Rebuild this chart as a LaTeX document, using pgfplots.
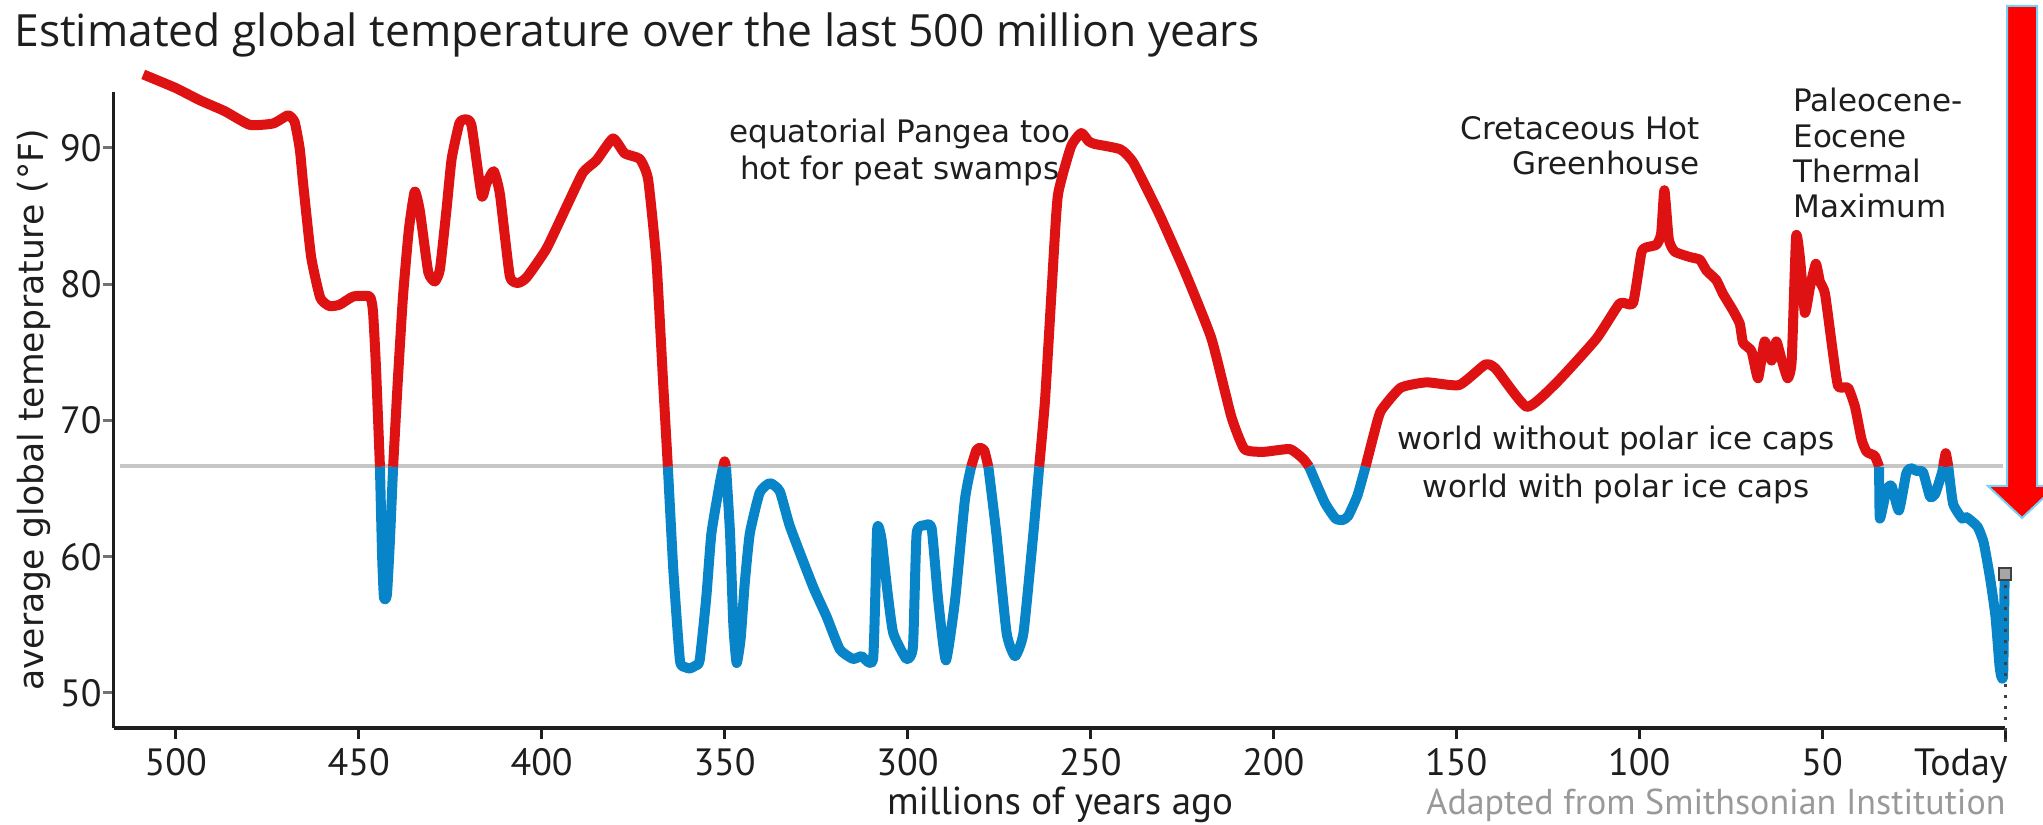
\documentclass[border=0pt]{standalone}
\usepackage{fontspec}
\setmainfont{DejaVu Sans}
\newfontfamily\ptsans{PT Sans}
\newfontfamily\opensans{Open Sans}
\usepackage{pgfplots}
\usepackage{pgfplotstable}
\pgfplotsset{compat=1.18}

\definecolor{hot}{RGB}{222,18,18}
\definecolor{cold}{RGB}{8,132,200}
\definecolor{ink}{RGB}{30,30,30}

% warm stretches (above the ice-cap line), nan rows break the line
\pgfplotstableread{
t T
508.9 95.4
500.0 94.4
493.4 93.5
486.6 92.7
479.8 91.7
473.4 91.8
469.3 92.4
467.5 91.9
466.1 89.9
465.2 87.4
463.0 82.0
460.5 79.0
458.0 78.4
455.2 78.5
451.5 79.1
447.0 79.1
446.1 78.0
445.3 74.0
444.2 66.6
nan nan
440.6 66.6
439.3 73.0
437.9 79.1
436.3 84.0
434.7 86.8
433.3 85.4
431.0 80.9
429.2 80.2
427.8 81.1
426.0 85.5
424.6 89.2
422.5 91.8
421.0 92.1
419.2 91.7
416.4 86.5
415.1 87.4
413.1 88.3
411.4 86.6
408.7 80.6
406.4 80.1
404.1 80.5
398.7 82.6
393.2 85.7
388.7 88.2
385.0 89.1
380.5 90.7
377.3 89.6
373.2 89.2
370.9 87.7
368.6 81.6
366.8 72.8
365.5 66.6
nan nan
350.4 66.6
350.0 67.0
349.6 66.6
nan nan
282.6 66.6
281.2 67.8
280.2 68.0
279.0 67.8
277.9 66.6
nan nan
264.0 66.6
262.4 71.5
260.5 80.0
258.9 86.5
255.3 90.1
252.5 91.1
250.5 90.5
248.9 90.3
241.8 89.9
238.2 88.9
231.1 85.1
224.0 80.8
216.9 76.0
211.5 70.3
207.9 67.9
202.6 67.7
195.5 67.9
191.9 67.2
190.2 66.6
nan nan
174.8 66.6
172.5 69.0
170.6 70.7
165.2 72.4
158.1 72.8
149.2 72.6
142.1 74.1
139.2 73.8
130.7 71.0
122.5 72.8
111.7 76.0
105.3 78.6
101.7 78.6
99.4 82.3
98.1 82.7
95.3 82.9
94.0 83.7
93.1 86.9
91.9 83.3
90.3 82.4
86.2 82.0
83.4 81.8
81.6 81.0
78.9 80.3
77.1 79.3
74.4 78.1
72.5 77.1
71.6 75.7
69.3 75.1
67.5 73.1
65.7 75.8
63.8 74.4
62.5 75.8
61.1 74.5
59.4 73.1
58.3 74.4
57.1 83.5
56.0 81.8
54.7 77.9
53.3 79.8
51.7 81.5
50.6 80.2
49.2 79.3
47.0 74.9
45.6 72.5
42.9 72.4
41.0 71.0
39.2 68.6
37.8 67.7
35.6 67.4
34.4 66.6
nan nan
16.9 66.6
16.2 67.6
15.5 66.6
}\hotdata

% cold stretches (below the ice-cap line)
\pgfplotstableread{
t T
444.2 66.6
443.6 60.0
443.1 57.0
442.3 57.2
441.5 61.0
440.6 66.6
nan nan
365.5 66.6
364.0 59.0
362.2 52.4
360.8 51.9
359.5 51.8
358.0 52.0
356.8 52.4
355.0 57.0
353.6 61.7
351.3 65.4
350.4 66.6
nan nan
349.6 66.6
348.5 61.7
347.6 55.0
346.7 52.2
345.6 54.0
344.5 58.0
343.1 61.7
340.4 64.7
337.6 65.4
334.9 64.8
332.1 62.2
325.8 57.8
322.1 55.6
318.5 53.2
314.9 52.5
312.6 52.7
309.4 52.5
308.3 62.0
307.1 61.3
305.5 57.5
303.9 54.4
300.3 52.5
298.5 53.4
297.5 61.7
295.3 62.3
293.4 62.1
291.6 56.8
289.5 52.4
287.0 56.8
284.3 64.2
282.6 66.6
nan nan
277.9 66.6
275.7 61.7
272.9 54.4
270.6 52.7
268.3 54.4
265.6 61.7
264.0 66.6
nan nan
190.2 66.6
186.0 64.0
183.0 62.8
181.0 62.7
179.5 63.0
177.0 64.5
174.8 66.6
nan nan
34.4 66.6
34.2 62.8
32.4 64.9
31.0 65.2
29.0 63.4
27.0 66.1
25.8 66.5
24.2 66.3
22.4 66.2
20.5 64.4
19.1 64.6
17.3 66.1
16.9 66.6
nan nan
15.5 66.6
14.2 63.9
11.7 62.8
10.5 62.9
7.5 62.2
5.8 61.0
4.0 58.3
2.6 55.6
1.5 52.0
1.0 51.2
0.5 51.4
0.1 58.5
}\colddata

\begin{document}
\begin{tikzpicture}
\useasboundingbox (0,0) rectangle (1021.5pt,412pt);
\begin{axis}[
  at={(57pt,48pt)}, anchor=south west,
  scale only axis, width=945.5pt, height=318pt,
  x dir=reverse,
  xmin=0, xmax=516.9, ymin=47.43, ymax=94.11,
  axis x line=bottom, axis y line=left,
  axis line style={-, ink, line width=1.5pt},
  xtick={50,100,...,500}, ytick={50,60,...,90},
  extra x ticks={0}, extra x tick labels={Today},
  extra x tick style={xticklabel style={anchor=base east, xshift=1.5pt}},
  tick align=outside, major tick length=5.5pt,
  x tick style={ink, line width=1.5pt},
  y tick style={black!55, line width=1.5pt},
  /pgf/number format/assume math mode=true,
  ticklabel style={font=\ptsans\fontsize{19}{22}\selectfont, text=ink, inner sep=0pt},
  xticklabel style={anchor=base, yshift=-18pt},
  yticklabel style={anchor=east, xshift=-0.5pt},
  clip=false,
  unbounded coords=jump,
]
\addplot[black!22, line width=2pt] coordinates {(515.3,66.66) (0.5,66.66)};
\addplot[hot, line width=5pt, line join=round, line cap=butt, smooth, tension=0.3] table[x=t, y=T] {\hotdata};
\addplot[cold, line width=5pt, line join=round, line cap=butt, smooth, tension=0.3] table[x=t, y=T] {\colddata};
\addplot[black!75, line width=1.5pt, dash pattern=on 1.5pt off 4pt] coordinates {(0,58.7) (0,46.3)};
\addplot[only marks, mark=square*, mark size=3pt, mark options={fill=black!35, draw=black!75, line width=1pt}] coordinates {(0,58.7)};
\end{axis}

\node[anchor=base west, inner sep=0pt, text=ink, font=\opensans\fontsize{22.2}{26}\selectfont]
  at (7pt,388.5pt) {Estimated global temperature over the last 500 million years};
\node[rotate=90, inner sep=0pt, text=ink, font=\fontsize{17.3}{20}\selectfont]
  at (17pt,207pt) {average global temeprature (°F)};
\node[anchor=base, inner sep=0pt, text=ink, font=\ptsans\fontsize{19.5}{22}\selectfont]
  at (530pt,5pt) {millions of years ago};
\node[anchor=base east, inner sep=0pt, text=black!40, font=\ptsans\fontsize{18}{20}\selectfont]
  at (1003pt,5pt) {Adapted from Smithsonian Institution};

\begin{scope}[every node/.style={inner sep=0pt, text=ink, font=\fontsize{15.5}{18}\selectfont}]
\node[anchor=base] at (450pt,340.5pt) {equatorial Pangea too};
\node[anchor=base] at (450pt,322pt) {hot for peat swamps};
\node[anchor=base east] at (850pt,342pt) {Cretaceous Hot};
\node[anchor=base east] at (850pt,324.5pt) {Greenhouse};
\node[anchor=base west] at (896.5pt,356pt) {Paleocene-};
\node[anchor=base west] at (896.5pt,338pt) {Eocene};
\node[anchor=base west] at (896.5pt,320.5pt) {Thermal};
\node[anchor=base west] at (896.5pt,303pt) {Maximum};
\node[anchor=base] at (808pt,187pt) {world without polar ice caps};
\node[anchor=base] at (808pt,163pt) {world with polar ice caps};
\end{scope}

% red arrow at the right edge
\filldraw[fill=red, draw=cyan!55, line width=1pt]
  (1003.5pt,409pt) -- (1018.5pt,409pt) -- (1018.5pt,169pt) -- (1028pt,169pt)
  -- (1011pt,153pt) -- (994pt,169pt) -- (1003.5pt,169pt) -- cycle;
\end{tikzpicture}
\end{document}
